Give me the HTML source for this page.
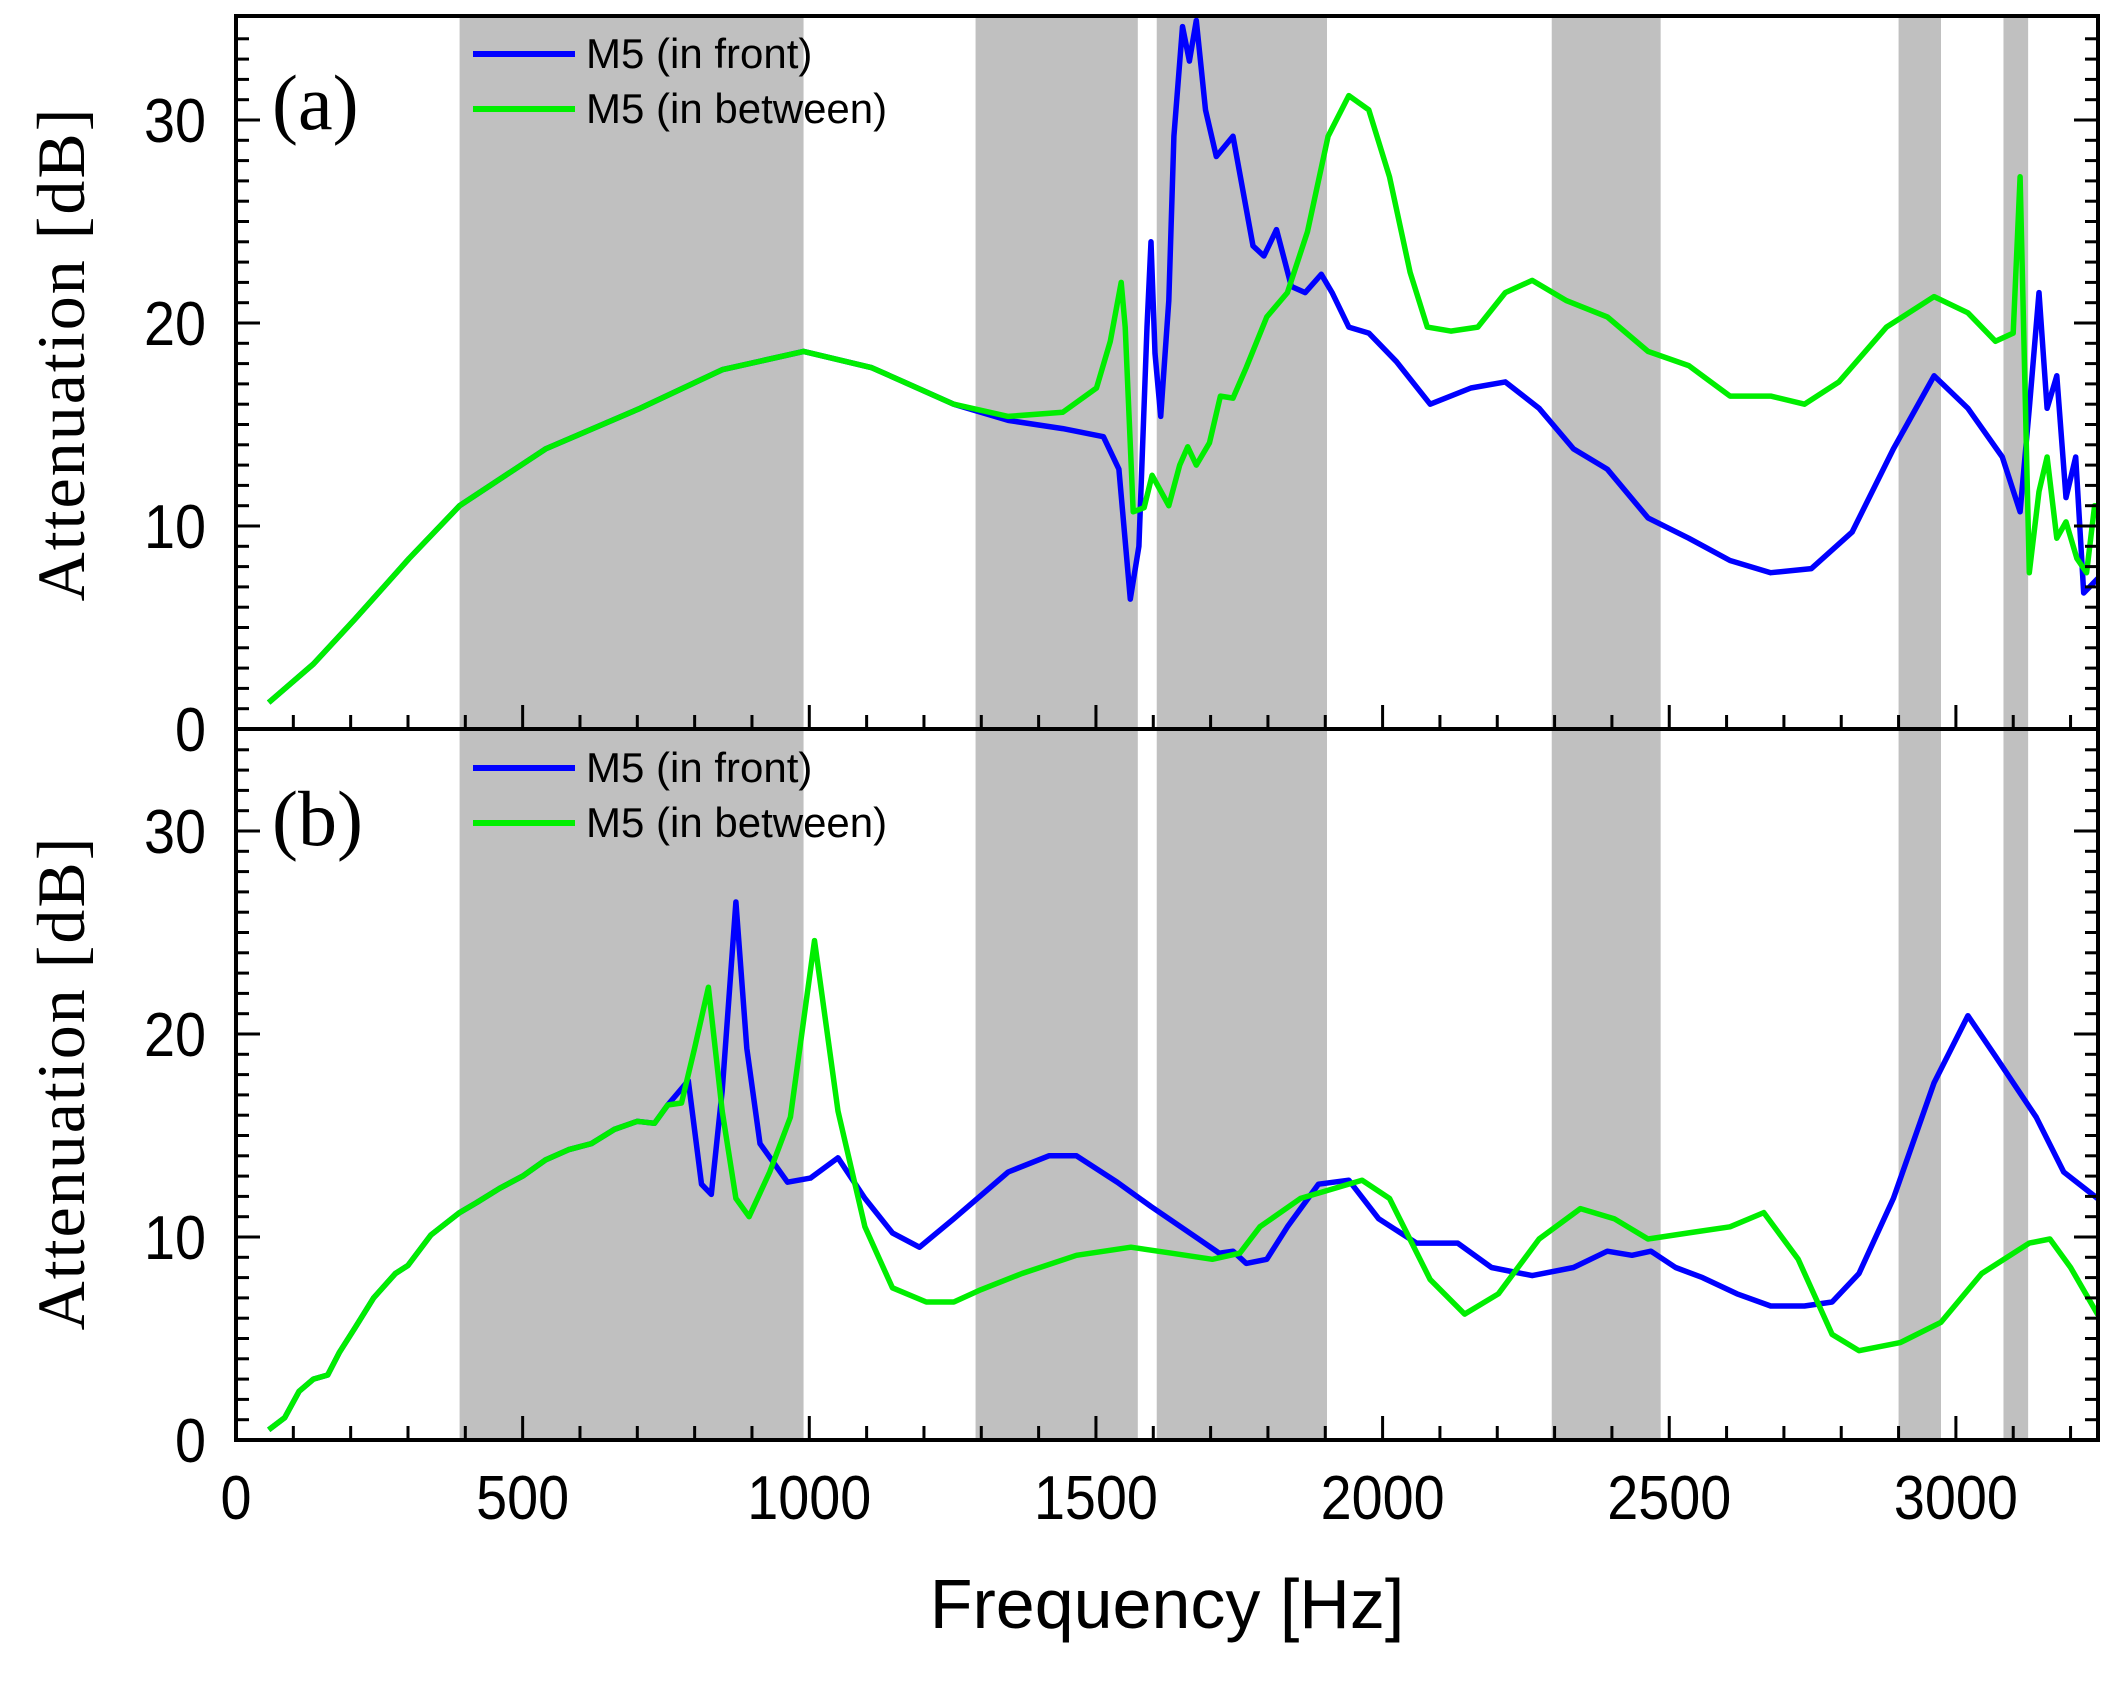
<!DOCTYPE html>
<html><head><meta charset="utf-8"><style>
html,body{margin:0;padding:0;background:#fff;}
svg{display:block;}
</style></head><body>
<svg id="s" width="2125" height="1682" xmlns="http://www.w3.org/2000/svg">
<defs>
<clipPath id="ca"><rect x="236" y="16" width="1862" height="713"/></clipPath>
<clipPath id="cb"><rect x="236" y="729" width="1862" height="711"/></clipPath>
</defs>
<g id="bands"></g>
<g id="series"></g>
<g id="axes" stroke="#000" fill="none"></g>
<g font-family="Liberation Sans, sans-serif" font-size="62" fill="#000" id="labels"></g>
<text x="272" y="129" font-family="Liberation Serif, serif" font-size="78">(a)</text>
<text x="272" y="845" font-family="Liberation Serif, serif" font-size="78">(b)</text>
<text transform="translate(84,354) rotate(-90)" text-anchor="middle" font-family="Liberation Serif, serif" font-size="68" letter-spacing="2">Attenuation [dB]</text>
<text transform="translate(84,1083) rotate(-90)" text-anchor="middle" font-family="Liberation Serif, serif" font-size="68" letter-spacing="2">Attenuation [dB]</text>
<text x="1167" y="1628" text-anchor="middle" font-family="Liberation Sans, sans-serif" font-size="70">Frequency [Hz]</text>
<g font-family="Liberation Sans, sans-serif" font-size="42">
<line x1="473" y1="54" x2="575" y2="54" stroke="#0000ff" stroke-width="6"/>
<text x="586" y="68">M5 (in front)</text>
<line x1="473" y1="109" x2="575" y2="109" stroke="#00ee00" stroke-width="6"/>
<text x="586" y="123">M5 (in between)</text>
<line x1="473" y1="768" x2="575" y2="768" stroke="#0000ff" stroke-width="6"/>
<text x="586" y="782">M5 (in front)</text>
<line x1="473" y1="823" x2="575" y2="823" stroke="#00ee00" stroke-width="6"/>
<text x="586" y="837">M5 (in between)</text>
</g>
</svg>
<script>
var X0=236,K=0.5733,YA=729,YB=1440,D=20.3,L=236,R=2098,T=16;
function X(h){return X0+h*K;}
var NS="http://www.w3.org/2000/svg";
function el(p,t,a){var e=document.createElementNS(NS,t);for(var k in a)e.setAttribute(k,a[k]);p.appendChild(e);return e;}
var bands=[[390,990],[1290,1573],[1606,1903],[2295,2485],[2900,2974],[3083,3126]];
var bg=document.getElementById('bands');
bands.forEach(function(b){el(bg,'rect',{x:X(b[0]),y:T,width:X(b[1])-X(b[0]),height:YB-T,fill:'#c0c0c0'});});
var common=[[57,1.3],[135,3.2],[207,5.4],[302,8.4],[390,11],[540,13.8],[705,15.8],[848,17.7],[990,18.6],[1109,17.8],[1252,16],[1347,15.4]];
var ag=common.concat([[1442,15.6],[1501,16.8],[1525,19.1],[1544,22],[1551,19.8],[1565,10.7],[1584,10.9],[1598,12.5],[1627,11],[1646,13],[1660,13.9],[1675,13],[1698,14.1],[1717,16.4],[1739,16.3],[1762,17.8],[1798,20.3],[1834,21.5],[1869,24.5],[1905,29.2],[1941,31.2],[1976,30.5],[2012,27.2],[2048,22.5],[2078,19.8],[2119,19.6],[2166,19.8],[2214,21.5],[2261,22.1],[2321,21.1],[2392,20.3],[2463,18.6],[2534,17.9],[2606,16.4],[2677,16.4],[2736,16],[2796,17.1],[2879,19.8],[2962,21.3],[3021,20.5],[3069,19.1],[3100,19.5],[3112,27.2],[3128,7.7],[3145,11.7],[3159,13.4],[3176,9.4],[3192,10.2],[3211,8.4],[3228,7.7],[3242,11],[3260,11]]);
var ab=common.slice(0,11).concat([[1347,15.2],[1442,14.8],[1513,14.4],[1540,12.8],[1560,6.4],[1575,9],[1589,19.8],[1596,24],[1603,18.5],[1613,15.4],[1627,21.1],[1636,29.2],[1651,34.6],[1663,32.9],[1675,34.9],[1691,30.5],[1710,28.2],[1739,29.2],[1774,23.8],[1793,23.3],[1815,24.6],[1841,21.8],[1865,21.5],[1893,22.4],[1912,21.5],[1941,19.8],[1976,19.5],[2024,18.1],[2083,16],[2154,16.8],[2214,17.1],[2273,15.8],[2333,13.8],[2392,12.8],[2463,10.4],[2534,9.4],[2606,8.3],[2677,7.7],[2748,7.9],[2819,9.7],[2891,13.8],[2962,17.4],[3021,15.8],[3081,13.4],[3112,10.7],[3128,15.8],[3145,21.5],[3159,15.8],[3176,17.4],[3192,11.4],[3209,13.4],[3223,6.7],[3247,7.4],[3260,7.6]]);
var cb=[[57,0.5],[85,1.1],[110,2.4],[135,3],[160,3.2],[180,4.3],[207,5.5],[240,7],[278,8.2],[300,8.6],[340,10.1],[390,11.2],[420,11.7],[460,12.4],[500,13],[540,13.8],[580,14.3],[620,14.6],[660,15.3],[700,15.7],[730,15.6],[753,16.5]];
var bb=cb.concat([[789,17.7],[812,12.6],[829,12.1],[848,17.2],[872,26.5],[891,19.3],[914,14.6],[962,12.7],[1002,12.9],[1050,13.9],[1097,11.9],[1145,10.2],[1192,9.5],[1252,10.9],[1347,13.2],[1418,14],[1466,14],[1537,12.7],[1596,11.5],[1679,9.9],[1715,9.2],[1739,9.3],[1762,8.7],[1798,8.9],[1834,10.5],[1888,12.6],[1941,12.8],[1993,10.9],[2059,9.7],[2131,9.7],[2190,8.5],[2261,8.1],[2333,8.5],[2392,9.3],[2435,9.1],[2468,9.3],[2511,8.5],[2558,8],[2618,7.2],[2677,6.6],[2736,6.6],[2784,6.8],[2831,8.2],[2891,11.9],[2962,17.6],[3021,20.9],[3069,18.9],[3140,15.9],[3188,13.2],[3247,11.9],[3260,11.5]]);
var bg2=cb.concat([[777,16.6],[800,19.3],[824,22.3],[848,16.2],[872,11.9],[895,11],[931,13.2],[967,15.9],[1009,24.6],[1050,16.2],[1097,10.5],[1145,7.5],[1204,6.8],[1252,6.8],[1299,7.4],[1371,8.2],[1466,9.1],[1561,9.5],[1632,9.2],[1703,8.9],[1751,9.2],[1786,10.5],[1857,11.9],[1964,12.8],[2012,11.9],[2083,7.9],[2143,6.2],[2202,7.2],[2273,9.9],[2345,11.4],[2404,10.9],[2463,9.9],[2534,10.2],[2606,10.5],[2665,11.2],[2725,8.9],[2784,5.2],[2831,4.4],[2903,4.8],[2974,5.8],[3045,8.2],[3128,9.7],[3164,9.9],[3200,8.5],[3247,6.2],[3260,5.8]]);
var sg=document.getElementById('series');
function path(d,y0,col,clip){var s='';d.forEach(function(p,i){s+=(i?'L':'M')+X(p[0]).toFixed(1)+','+(y0-p[1]*D).toFixed(1);});
el(sg,'path',{d:s,stroke:col,'stroke-width':5.5,fill:'none','stroke-linejoin':'round','clip-path':'url(#'+clip+')'});}
path(ab,YA,'#0000ff','ca');path(ag,YA,'#00ee00','ca');
path(bb,YB,'#0000ff','cb');path(bg2,YB,'#00ee00','cb');
var ax=document.getElementById('axes');
el(ax,'rect',{x:L,y:T,width:R-L,height:YB-T,'stroke-width':4});
el(ax,'line',{x1:L,y1:YA,x2:R,y2:YA,'stroke-width':4});
var lab=document.getElementById('labels');
[YA,YB].forEach(function(y0,pi){
 for(var h=100;h<=3200;h+=100){var maj=h%500==0;el(ax,'line',{x1:X(h),y1:y0,x2:X(h),y2:y0-(maj?24:14),'stroke-width':3});}
 for(var v=1;v<=34;v++){var maj=v%10==0,y=y0-v*D;
  el(ax,'line',{x1:L,y1:y,x2:L+(maj?24:13),y2:y,'stroke-width':3});
  el(ax,'line',{x1:R,y1:y,x2:R-(maj?24:13),y2:y,'stroke-width':3});}
 for(var v=0;v<=30;v+=10){var s=String(v);var t=el(lab,'text',{x:206,y:y0-v*D+22,'text-anchor':'end',textLength:31*s.length,lengthAdjust:'spacingAndGlyphs'});t.textContent=s;}
});
for(var h=0;h<=3000;h+=500){var s=String(h);var t=el(lab,'text',{x:X(h),y:1519,'text-anchor':'middle',textLength:31*s.length,lengthAdjust:'spacingAndGlyphs'});t.textContent=s;}
</script>
</body></html>
